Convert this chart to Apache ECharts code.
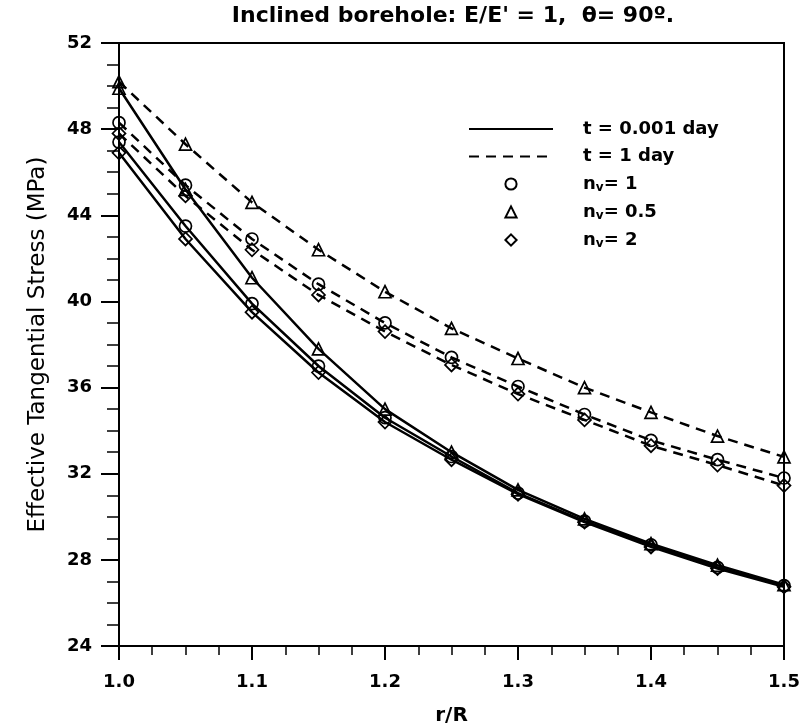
<!DOCTYPE html>
<html>
<head>
<meta charset="utf-8">
<script src="https://cdn.jsdelivr.net/npm/echarts@6/dist/echarts.min.js"></script>
<style>html,body{margin:0;padding:0;background:#fff;}#c{width:804px;height:724px;}</style>
</head>
<body>
<div id="c"></div>
<script>
// r/R positions
const rR = [1.0, 1.05, 1.1, 1.15, 1.2, 1.25, 1.3, 1.35, 1.4, 1.45, 1.5];
// t = 0.001 day (solid)
const early_nv1  = [47.4, 43.5, 39.9, 37.0, 34.6, 32.8, 31.1, 29.8, 28.7, 27.65, 26.8];
const early_nv05 = [49.9, 45.2, 41.1, 37.8, 35.0, 33.0, 31.25, 29.9, 28.75, 27.75, 26.85];
const early_nv2  = [46.9, 42.9, 39.5, 36.7, 34.4, 32.65, 31.05, 29.75, 28.6, 27.6, 26.75];
// t = 1 day (dashed)
const late_nv1  = [48.3, 45.4, 42.9, 40.8, 39.0, 37.4, 36.05, 34.75, 33.55, 32.65, 31.8];
const late_nv05 = [50.2, 47.3, 44.6, 42.4, 40.45, 38.75, 37.35, 36.0, 34.85, 33.75, 32.78];
const late_nv2  = [47.8, 44.9, 42.4, 40.3, 38.6, 37.05, 35.7, 34.5, 33.3, 32.4, 31.45];
// tick labels
const xTicks = [1.0, 1.1, 1.2, 1.3, 1.4, 1.5];
const yTicks = [24, 28, 32, 36, 40, 44, 48, 52];
const legendNames = ['t = 0.001 day', 't = 1 day', 'nv1', 'nv05', 'nv2'];
const legendLabels = {
  't = 0.001 day': 't = 0.001 day',
  't = 1 day': 't = 1 day',
  'nv1': 'n{s|v}= 1',
  'nv05': 'n{s|v}= 0.5',
  'nv2': 'n{s|v}= 2'
};

const FONT = '"DejaVu Sans", Verdana, sans-serif';
const pairs = a => a.map((v, i) => [rR[i], v]);

function dataSeries(arr, symbol, dashed, size) {
  return {
    type: 'line', data: pairs(arr), symbol: symbol, symbolSize: size,
    showSymbol: true, smooth: false, z: 3,
    lineStyle: {color: '#000', width: 2.5, type: dashed ? [10, 7] : 'solid'},
    itemStyle: {color: 'rgba(255,255,255,0)', borderColor: '#000', borderWidth: 1.7},
    emphasis: {disabled: true}, silent: true
  };
}
function legendSeries(name, symbol, dashed, isLine) {
  return {
    name: name, type: 'line', data: [], symbol: symbol, symbolSize: 11,
    lineStyle: {color: '#000', width: isLine ? 2.5 : 0, opacity: isLine ? 1 : 0, type: dashed ? [10, 7] : 'solid'},
    itemStyle: {color: 'rgba(255,255,255,0)', borderColor: isLine ? 'rgba(0,0,0,0)' : '#000', borderWidth: isLine ? 0 : 1.7}
  };
}

const chart = echarts.init(document.getElementById('c'), null, {renderer: 'canvas'});
chart.setOption({
  animation: false,
  backgroundColor: '#fff',
  title: {
    text: 'Inclined borehole: E/E\' = 1,  \u03b8= 90\u00ba.',
    left: 448, top: 0, textAlign: 'center',
    textStyle: {fontFamily: FONT, fontSize: 22, fontWeight: 'bold', color: '#000'}
  },
  grid: {left: 119, right: 20, top: 43, bottom: 78, show: true, borderColor: '#000', borderWidth: 2,
    backgroundColor: 'transparent', containLabel: false, outerBoundsMode: 'none'},
  legend: {
    data: legendNames, orient: 'vertical', left: 468, top: 120, padding: 0,
    itemWidth: 84, itemHeight: 14, itemGap: 9.5,
    formatter: n => legendLabels[n],
    selectedMode: false,
    textStyle: {
      fontFamily: FONT, fontSize: 18, fontWeight: 'bold', color: '#000', padding: [0, 0, 0, 25], lineHeight: 17.5,
      rich: {s: {fontFamily: FONT, fontSize: 12, fontWeight: 'bold', color: '#000', padding: [7, 0, 0, 0]}}
    }
  },
  xAxis: {
    type: 'value', min: 1.0, max: 1.5, interval: 0.1,
    name: 'r/R', nameLocation: 'middle', nameGap: 60,
    nameTextStyle: {fontFamily: FONT, fontSize: 20, fontWeight: 'bold', color: '#000'},
    axisLine: {lineStyle: {color: '#000', width: 2}},
    axisTick: {show: true, inside: false, length: 14, lineStyle: {color: '#000', width: 2}},
    minorTick: {show: true, splitNumber: 4, length: 9, lineStyle: {color: '#000', width: 1.5}},
    splitLine: {show: false},
    axisLabel: {fontFamily: FONT, fontSize: 18, fontWeight: 'bold', color: '#000', margin: 27,
      formatter: v => xTicks.some(t => Math.abs(t - v) < 1e-6) ? v.toFixed(1) : ''}
  },
  yAxis: {
    type: 'value', min: 24, max: 52, interval: 4,
    name: 'Effective Tangential Stress (MPa)', nameLocation: 'middle', nameGap: 69,
    nameTextStyle: {fontFamily: FONT, fontSize: 23, color: '#000'},
    axisLine: {lineStyle: {color: '#000', width: 2}},
    axisTick: {show: true, inside: false, length: 18, lineStyle: {color: '#000', width: 2}},
    minorTick: {show: true, splitNumber: 4, length: 12, lineStyle: {color: '#000', width: 1.5}},
    splitLine: {show: false},
    axisLabel: {fontFamily: FONT, fontSize: 18, fontWeight: 'bold', color: '#000', margin: 27,
      formatter: v => yTicks.indexOf(v) >= 0 ? String(v) : ''}
  },
  series: [
    dataSeries(early_nv1, 'circle', false, 12),
    dataSeries(early_nv05, 'triangle', false, 12),
    dataSeries(early_nv2, 'diamond', false, 13),
    dataSeries(late_nv1, 'circle', true, 12),
    dataSeries(late_nv05, 'triangle', true, 12),
    dataSeries(late_nv2, 'diamond', true, 13),
    legendSeries('t = 0.001 day', 'none', false, true),
    legendSeries('t = 1 day', 'none', true, true),
    legendSeries('nv1', 'circle', false, false),
    legendSeries('nv05', 'triangle', false, false),
    legendSeries('nv2', 'diamond', false, false)
  ]
});
</script>
</body>
</html>
